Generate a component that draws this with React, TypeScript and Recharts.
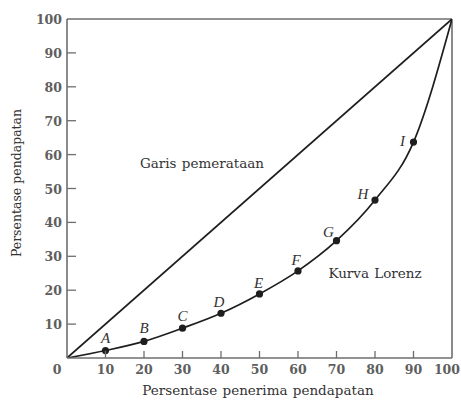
import React from 'react';
import { LineChart, Line, XAxis, YAxis, ReferenceLine, Customized } from 'recharts';

// ---- data ----
const POINT_NAMES = ['', 'A', 'B', 'C', 'D', 'E', 'F', 'G', 'H', 'I', ''];
const POP_SHARE = [0, 10, 20, 30, 40, 50, 60, 70, 80, 90, 100];
const INCOME_SHARE = [0, 2.2, 4.9, 8.8, 13.2, 18.9, 25.7, 34.6, 46.6, 63.7, 100];
const EQUALITY_X = [0, 100];
const EQUALITY_Y = [0, 100];
const X_TICKS = [0, 10, 20, 30, 40, 50, 60, 70, 80, 90, 100];
const Y_TICKS = [10, 20, 30, 40, 50, 60, 70, 80, 90, 100];

const lorenz = POP_SHARE.map((x, i) => ({ x, y: INCOME_SHARE[i], name: POINT_NAMES[i] }));
const equality = EQUALITY_X.map((x, i) => ({ x, y: EQUALITY_Y[i] }));

// ---- style ----
const W = 461;
const H = 403;
const LEFT = 67;
const TOP = 19;
const RIGHT = 452;
const BOTTOM = 358;
const SERIF = '"DejaVu Serif", "Liberation Serif", serif';
const ITALIC = '"Liberation Serif", "DejaVu Serif", serif';
const AXIS = '#6e6e6e';
const TICK_TEXT = '#5e5e5e';
const INK = '#1e1e1e';

// label offsets for the point letters (dx, dy of letter centre)
const LETTER_OFFSET: Record<string, [number, number]> = {
  A: [0, -13], B: [0, -13], C: [0, -12], D: [-2, -11], E: [-1, -11],
  F: [-2, -11], G: [-8, -9], H: [-12, -6], I: [-11, -1],
};

const XTick = (props: any) => {
  const { x, payload } = props;
  const v = payload.value;
  let tx = x;
  let anchor: 'middle' | 'end' = 'middle';
  if (v === 0) tx = x - 10;
  if (v === 100) { tx = W - 1; anchor = 'end'; }
  return (
    <g>
      {v > 0 && v < 100 && (
        <line x1={x} x2={x} y1={BOTTOM} y2={BOTTOM - 7} stroke={AXIS} strokeWidth={1.3} />
      )}
      <text x={tx} y={374} textAnchor={anchor} fontFamily={SERIF}
        fontSize={12.5} fontWeight="bold" fill={TICK_TEXT}>{v}</text>
    </g>
  );
};

const YTick = (props: any) => {
  const { y, payload } = props;
  const v = payload.value;
  return (
    <g>
      {v < 100 && (
        <line x1={LEFT} x2={LEFT + 9} y1={y} y2={y} stroke={AXIS} strokeWidth={1.3} />
      )}
      <text x={62} y={y + 5} textAnchor="end" fontFamily={SERIF}
        fontSize={12.5} fontWeight="bold" fill={TICK_TEXT}>{v}</text>
    </g>
  );
};

const PointDot = (props: any) => {
  const { cx, cy, payload } = props;
  if (!payload || !payload.name) return <g key={`d${cx}`} />;
  const off = LETTER_OFFSET[payload.name] || [0, -12];
  return (
    <g key={`d${payload.name}`}>
      <circle cx={cx} cy={cy} r={3.6} fill={INK} />
      <text x={cx + off[0]} y={cy + off[1] + 5} textAnchor="middle" fontFamily={ITALIC}
        fontStyle="italic" fontSize={15} fill="#333">{payload.name}</text>
    </g>
  );
};

const Texts = () => (
  <g fontFamily={SERIF} fill="#333">
    <text x={202} y={168} textAnchor="middle" fontSize={13.5} wordSpacing={1}>Garis pemerataan</text>
    <text x={375} y={278} textAnchor="middle" fontSize={13.5} wordSpacing={1}>Kurva Lorenz</text>
    <text x={258} y={395} textAnchor="middle" fontSize={13.5} wordSpacing={1}>Persentase penerima pendapatan</text>
    <text x={0} y={0} textAnchor="middle" fontSize={12.5}
      transform={`translate(21, 183) rotate(-90)`}>Persentase pendapatan</text>
  </g>
);

export default function App() {
  return (
    <div style={{ position: 'absolute', left: 0, top: 0, width: W, height: H, background: '#fff' }}>
      <LineChart width={W} height={H} margin={{ top: TOP, right: W - RIGHT, left: 0, bottom: 0 }}>
        <XAxis dataKey="x" type="number" domain={[0, 100]} ticks={X_TICKS} interval={0}
          height={H - BOTTOM} axisLine={{ stroke: AXIS, strokeWidth: 1.6 }} tickLine={false}
          tick={<XTick />} allowDataOverflow />
        <YAxis dataKey="y" type="number" domain={[0, 100]} ticks={Y_TICKS} interval={0}
          width={LEFT} axisLine={{ stroke: AXIS, strokeWidth: 1.6 }} tickLine={false}
          tick={<YTick />} allowDataOverflow />
        <ReferenceLine y={100} stroke={AXIS} strokeWidth={1.6} ifOverflow="visible" />
        <ReferenceLine x={100} stroke={AXIS} strokeWidth={1.6} ifOverflow="visible" />
        <Line data={equality} dataKey="y" type="linear" stroke={INK} strokeWidth={1.7}
          dot={false} activeDot={false} isAnimationActive={false} />
        <Line data={lorenz} dataKey="y" type="monotone" stroke={INK} strokeWidth={1.7}
          dot={<PointDot />} activeDot={false} isAnimationActive={false} />
        <Customized component={<Texts />} />
      </LineChart>
    </div>
  );
}
